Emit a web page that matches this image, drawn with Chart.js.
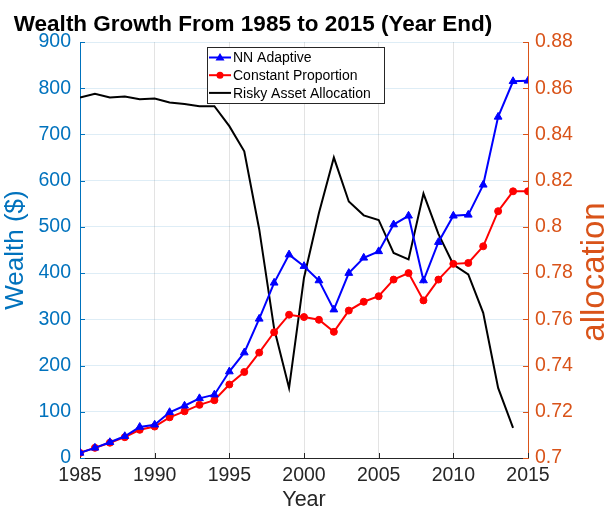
<!DOCTYPE html>
<html lang="en">
<head>
<meta charset="UTF-8" />
<title>Wealth Growth From 1985 to 2015 (Year End)</title>
<style>
  body { margin: 0; background: #fff; }
  #chart { display: block; }
</style>
</head>
<body>
<canvas id="chart" width="608" height="511"></canvas>
<script src="https://cdn.jsdelivr.net/npm/chart.js@4.4.0/dist/chart.umd.min.js"></script>
<script>
  // values
  const years = [1985, 1986, 1987, 1988, 1989, 1990, 1991, 1992, 1993, 1994,
                 1995, 1996, 1997, 1998, 1999, 2000, 2001, 2002, 2003, 2004,
                 2005, 2006, 2007, 2008, 2009, 2010, 2011, 2012, 2013, 2014, 2015];
  const nnAdaptive = [11, 22, 34, 47, 67, 72, 99, 113, 129, 137,
                      187, 228, 301, 379, 440, 415, 384, 321, 400, 433,
                      447, 505, 524, 384, 467, 524, 526, 591, 738, 815, 816];
  const constantProp = [11, 22, 33, 45, 61, 68, 88, 101, 115, 125,
                        159, 186, 228, 272, 310, 305, 299, 273, 319, 338,
                        350, 386, 400, 341, 386, 420, 422, 458, 534, 577, 577];
  const riskyAlloc = [0.856, 0.8576, 0.856, 0.8564, 0.8552, 0.8555, 0.8538, 0.8532, 0.8522, 0.8522,
                      0.8436, 0.8327, 0.799, 0.756, 0.7303, 0.778, 0.806, 0.830, 0.811, 0.805,
                      0.803, 0.7887, 0.7859, 0.8144, 0.797, 0.7837, 0.7794, 0.7628, 0.7303, 0.713, null];
  const xTicks = [1985, 1990, 1995, 2000, 2005, 2010, 2015];
  const wealthTicks = [0, 100, 200, 300, 400, 500, 600, 700, 800, 900];
  const allocTicks = [0.7, 0.72, 0.74, 0.76, 0.78, 0.8, 0.82, 0.84, 0.86, 0.88];

  const FONT = '"Liberation Sans", Arial, Helvetica, sans-serif';
  const BLUE_AX = '#0072BD';
  const ORANGE_AX = '#D95319';
  const DARK = '#262626';

  const toXY = vals => years.map((yr, i) => ({ x: yr, y: vals[i] }));
  const setTicks = list => scale => { scale.ticks = list.map(v => ({ value: v })); };

  // title, right label and boxed legend are drawn by hand (MATLAB style)
  const decorations = {
    id: 'decorations',
    beforeDatasetsDraw(chart) {
      // inward tick marks
      const c = chart.ctx, a = chart.chartArea;
      const sx = chart.scales.x, sl = chart.scales.yl, sr = chart.scales.yr;
      c.save();
      c.lineWidth = 1;
      c.strokeStyle = BLUE_AX;
      wealthTicks.forEach(v => {
        const y = Math.round(sl.getPixelForValue(v)) + 0.5;
        c.beginPath(); c.moveTo(a.left, y); c.lineTo(a.left + 5, y); c.stroke();
      });
      c.strokeStyle = ORANGE_AX;
      allocTicks.forEach(v => {
        const y = Math.round(sr.getPixelForValue(v)) + 0.5;
        c.beginPath(); c.moveTo(a.right - 5, y); c.lineTo(a.right, y); c.stroke();
      });
      c.strokeStyle = DARK;
      xTicks.forEach(v => {
        const x = Math.round(sx.getPixelForValue(v)) + 0.5;
        c.beginPath(); c.moveTo(x, a.bottom); c.lineTo(x, a.bottom - 5); c.stroke();
      });
      c.restore();
    },
    afterDraw(chart) {
      const c = chart.ctx;
      c.save();
      c.fillStyle = '#000';
      c.font = 'bold 22.5px ' + FONT;
      c.textAlign = 'center';
      c.textBaseline = 'alphabetic';
      c.fillText('Wealth Growth From 1985 to 2015 (Year End)', 253, 31);

      // right axis label, reading bottom to top
      c.save();
      c.translate(604, 272);
      c.rotate(-Math.PI / 2);
      c.fillStyle = ORANGE_AX;
      c.font = '33px ' + FONT;
      c.textAlign = 'center';
      c.textBaseline = 'alphabetic';
      c.fillText('allocation', 0, 0);
      c.restore();

      // legend box
      const bx = 207, by = 47, bw = 177, bh = 56;
      c.fillStyle = '#fff';
      c.fillRect(bx, by, bw, bh);
      c.strokeStyle = DARK;
      c.lineWidth = 1;
      c.strokeRect(bx + 0.5, by + 0.5, bw, bh);
      c.font = '14px ' + FONT;
      c.textAlign = 'left';
      c.textBaseline = 'middle';
      chart.data.datasets.forEach((ds, i) => {
        const y = 57.5 + i * 17.7;
        c.strokeStyle = ds.borderColor;
        c.fillStyle = ds.borderColor;
        c.lineWidth = 2;
        c.beginPath(); c.moveTo(209, y); c.lineTo(231, y); c.stroke();
        if (ds.pointStyle === 'triangle') {
          c.beginPath();
          c.moveTo(220, y - 4.5); c.lineTo(224.5, y + 3); c.lineTo(215.5, y + 3);
          c.closePath(); c.fill();
        } else if (ds.pointStyle === 'circle') {
          c.beginPath(); c.arc(220, y, 3.5, 0, Math.PI * 2); c.fill();
        }
        c.fillStyle = '#000';
        c.fillText(ds.label, 233, y + 1);
      });
      c.restore();
    }
  };

  const ctx = document.getElementById('chart').getContext('2d');
  const chart = new Chart(ctx, {
    type: 'line',
    data: {
      datasets: [
        {
          label: 'NN Adaptive',
          data: toXY(nnAdaptive),
          borderColor: '#0000FF',
          backgroundColor: '#0000FF',
          borderWidth: 2,
          pointStyle: 'triangle',
          pointRadius: 4.5,
          pointBorderWidth: 1,
          yAxisID: 'yl'
        },
        {
          label: 'Constant Proportion',
          data: toXY(constantProp),
          borderColor: '#FF0000',
          backgroundColor: '#FF0000',
          borderWidth: 2,
          pointStyle: 'circle',
          pointRadius: 3.5,
          pointBorderWidth: 1,
          yAxisID: 'yl'
        },
        {
          label: 'Risky Asset Allocation',
          data: toXY(riskyAlloc),
          borderColor: '#000000',
          backgroundColor: '#000000',
          borderWidth: 2,
          pointRadius: 0,
          spanGaps: false,
          yAxisID: 'yr'
        }
      ]
    },
    options: {
      responsive: false,
      animation: false,
      layout: { padding: { top: 42, left: 0, right: 0, bottom: 0 } },
      plugins: {
        legend: { display: false },
        tooltip: { enabled: false }
      },
      scales: {
        x: {
          type: 'linear',
          min: 1985,
          max: 2015,
          afterBuildTicks: setTicks(xTicks),
          afterFit: s => { s.height = 53; },
          grid: { color: 'rgba(38,38,38,0.13)', drawTicks: false },
          border: { color: DARK, width: 1 },
          ticks: {
            color: DARK,
            padding: 6,
            font: { family: FONT, size: 19.5 },
            callback: v => String(v)
          },
          title: {
            display: true,
            text: 'Year',
            color: DARK,
            padding: { top: 0, bottom: 0 },
            font: { family: FONT, size: 21.5, lineHeight: 1.0 }
          }
        },
        yl: {
          type: 'linear',
          position: 'left',
          min: 0,
          max: 900,
          afterBuildTicks: setTicks(wealthTicks),
          afterFit: s => { s.width = 80; },
          grid: { color: 'rgba(0,114,189,0.13)', drawTicks: false },
          border: { color: BLUE_AX, width: 1 },
          ticks: {
            color: BLUE_AX,
            padding: 9,
            font: { family: FONT, size: 19.5 }
          },
          title: {
            display: true,
            text: 'Wealth ($)',
            color: BLUE_AX,
            padding: { top: 3, bottom: 0 },
            font: { family: FONT, size: 26, lineHeight: 1.0 }
          }
        },
        yr: {
          type: 'linear',
          position: 'right',
          min: 0.7,
          max: 0.88,
          afterBuildTicks: setTicks(allocTicks),
          afterFit: s => { s.width = 80; },
          grid: { drawOnChartArea: false, drawTicks: false },
          border: { color: ORANGE_AX, width: 1 },
          ticks: {
            color: ORANGE_AX,
            padding: 7,
            font: { family: FONT, size: 19.5 },
            callback: v => String(Number(v.toFixed(2)))
          }
        }
      }
    },
    plugins: [decorations]
  });
</script>
</body>
</html>
